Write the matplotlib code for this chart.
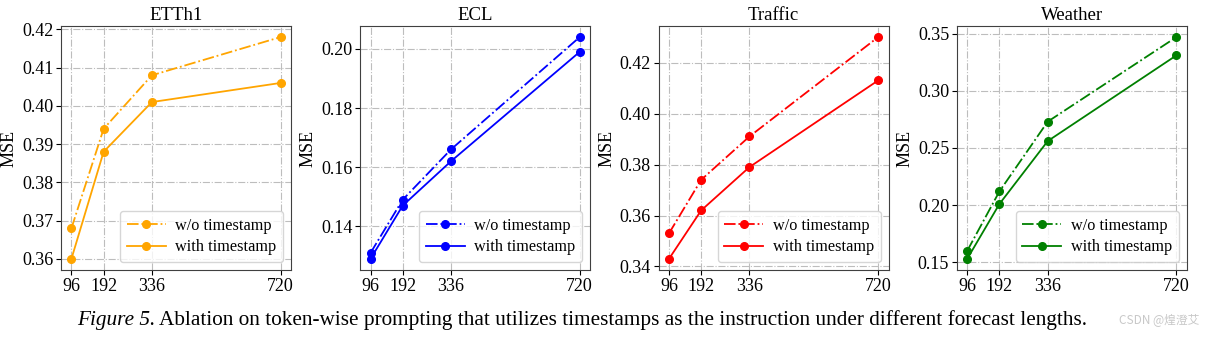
import matplotlib
matplotlib.use("Agg")
import matplotlib.pyplot as plt
from matplotlib.ticker import MultipleLocator

plt.rcParams['font.family'] = ['Liberation Serif', 'DejaVu Serif']
plt.rcParams['mathtext.fontset'] = 'stix'

horizons = [96, 192, 336, 720]
datasets = ["ETTh1", "ECL", "Traffic", "Weather"]
colors = ["orange", "blue", "red", "green"]
ytick_steps = [0.01, 0.02, 0.02, 0.05]

etth1_wo = [0.368, 0.394, 0.408, 0.418]
etth1_with = [0.360, 0.388, 0.401, 0.406]
ecl_wo = [0.131, 0.149, 0.166, 0.204]
ecl_with = [0.129, 0.147, 0.162, 0.199]
traffic_wo = [0.353, 0.374, 0.391, 0.430]
traffic_with = [0.343, 0.362, 0.379, 0.413]
weather_wo = [0.160, 0.212, 0.273, 0.347]
weather_with = [0.153, 0.201, 0.256, 0.331]

wo_all = [etth1_wo, ecl_wo, traffic_wo, weather_wo]
with_all = [etth1_with, ecl_with, traffic_with, weather_with]

fig = plt.figure(figsize=(12.05, 3.37), dpi=100)
lefts = [0.0506, 0.2988, 0.5465, 0.794]

for i, name in enumerate(datasets):
    ax = fig.add_axes([lefts[i], 0.199, 0.191, 0.724])
    c = colors[i]
    ax.plot(horizons, wo_all[i], color=c, linestyle='-.', marker='o', markersize=5.5, lw=1.3, label='w/o timestamp')
    ax.plot(horizons, with_all[i], color=c, linestyle='-', marker='o', markersize=5.5, lw=1.3, label='with timestamp')
    ax.set_xticks(horizons)
    ax.yaxis.set_major_locator(MultipleLocator(ytick_steps[i]))
    ax.yaxis.set_major_formatter(plt.FormatStrFormatter('%.2f'))
    ax.set_title(name, fontsize=13.5, pad=4)
    ax.set_ylabel('MSE', fontsize=13, labelpad=3)
    ax.tick_params(labelsize=13, pad=2)
    ax.grid(True, linestyle='-.', color='#bdbdbd', lw=0.8)
    for s in ax.spines.values():
        s.set_color('#404040')
    ax.legend(loc='lower right', fontsize=11.7, framealpha=0.8, edgecolor='#cccccc',
              handlelength=2.4, handletextpad=0.6, labelspacing=0.35, borderpad=0.4)

# caption with italic "Figure 5."
t1 = fig.text(0.064, 0.05, 'Figure 5.', fontsize=15.3, style='italic', va='center')
fig.canvas.draw()
r = fig.canvas.get_renderer()
bb = t1.get_window_extent(r)
x2 = (bb.x1 + 4) / fig.bbox.width
fig.text(x2, 0.05, 'Ablation on token-wise prompting that utilizes timestamps as the instruction under different forecast lengths.',
         fontsize=15.3, va='center')
fig.text(0.995, 0.05, 'CSDN @煌澄艾', fontsize=8.5, color='#c8c8c8', ha='right', va='center',
         family=['Noto Sans CJK SC', 'DejaVu Sans'])

fig.savefig('out.png', dpi=100)
